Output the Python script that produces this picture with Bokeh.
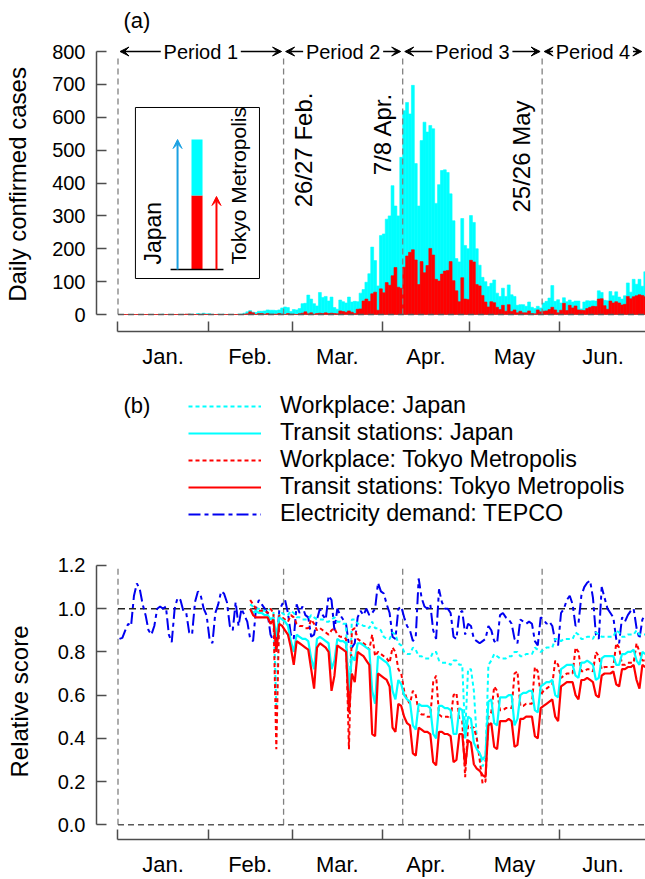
import numpy as np
import pandas as pd
from bokeh.plotting import figure
from bokeh.layouts import column
from bokeh.models import (ColumnDataSource, Range1d, FixedTicker, NumeralTickFormatter,
                          Arrow, VeeHead, Legend, LegendItem, Label)
from bokeh.embed import file_html
from bokeh.resources import INLINE
from bokeh.core.properties import value

FONT = "Liberation Sans"
W = 645

# ---------------------------------------------------------------- data
case_dates = pd.date_range("2020-01-01", "2020-06-30", freq="D")

japan_cases = [
    # Jan
    0, 0, 0, 0, 0, 0, 0, 0, 0, 0, 0, 0, 0, 0, 0, 1, 0, 0, 0, 0, 0, 0, 0, 1, 1, 1, 0, 3, 1, 4, 2,
    # Feb
    2, 0, 0, 1, 0, 1, 0, 0, 0, 0, 1, 1, 4, 8, 12, 7, 6, 10, 10, 11, 14, 13, 13, 12, 14, 20, 23, 21, 9,
    # Mar
    15, 14, 18, 33, 34, 59, 47, 33, 26, 67, 52, 55, 41, 53, 21, 16, 44, 39, 35, 53,
    38, 40, 39, 65, 76, 98, 124, 205, 164, 87, 240,
    # Apr
    245, 290, 300, 392, 330, 300, 478, 620, 645, 610, 697, 459, 330, 529, 585, 555, 575, 565, 338, 395,
    438, 440, 432, 367, 285, 170, 160, 292, 210, 200,
    # May
    301, 280, 200, 150, 113, 100, 85, 95, 105, 65, 55, 80, 55, 90, 60, 55, 28, 30, 30, 25,
    38, 22, 18, 25, 20, 35, 40, 50, 88, 40, 45,
    # Jun
    35, 51, 39, 44, 38, 41, 41, 17, 38, 42, 41, 42, 41, 72, 67, 43, 42, 70, 57, 69,
    53, 47, 57, 96, 68, 107, 92, 107, 86, 130,
]

tokyo_cases = [
    # Jan
    0, 0, 0, 0, 0, 0, 0, 0, 0, 0, 0, 0, 0, 0, 0, 0, 0, 0, 0, 0, 0, 0, 0, 1, 1, 0, 0, 0, 0, 1, 0,
    # Feb
    0, 0, 0, 0, 0, 0, 0, 0, 0, 0, 0, 0, 1, 2, 8, 5, 0, 3, 3, 1, 3, 1, 1, 1, 3, 1, 0, 3, 1,
    # Mar
    1, 0, 2, 4, 8, 2, 5, 1, 3, 4, 3, 5, 3, 4, 3, 2, 11, 9, 7, 11,
    7, 3, 16, 17, 41, 47, 40, 63, 68, 13, 78,
    # Apr
    66, 97, 89, 118, 143, 83, 80, 144, 178, 189, 197, 166, 91, 161, 127, 149, 201, 181, 107, 102,
    123, 132, 134, 161, 103, 72, 39, 112, 47, 46,
    # May
    165, 160, 91, 87, 58, 38, 23, 39, 36, 22, 15, 28, 10, 30, 9, 14, 5, 10, 5, 5,
    11, 3, 2, 14, 8, 10, 11, 15, 22, 14, 5,
    # Jun
    13, 34, 12, 28, 20, 26, 14, 13, 12, 18, 22, 25, 24, 47, 48, 27, 16, 41, 35, 39,
    35, 29, 31, 55, 48, 54, 57, 60, 58, 54,
]

electricity_tepco = [
    # Jan
    0.86, 0.865, 0.90, 0.93, 0.92, 1.06, 1.117, 1.09, 1.02, 0.97, 0.90, 0.88,
    0.92, 1.00, 1.01, 1.00, 1.01, 0.88, 0.845, 1.00, 1.05, 1.04, 0.99, 0.98, 0.89, 0.88,
    1.03, 1.08, 1.06, 1.00, 0.97,
    # Feb
    0.86, 0.84, 0.98, 1.02, 1.08, 1.07, 1.03, 0.92, 0.90, 1.03, 0.92, 1.00, 0.97, 0.94, 0.86, 0.85,
    1.00, 1.04, 1.02, 1.00, 0.98, 0.88, 0.85, 0.82, 0.99, 1.02, 1.04, 0.98, 0.88,
    # Mar
    0.86, 1.02, 0.98, 1.01, 0.97, 0.96, 0.87, 0.88, 0.95, 1.00, 0.97, 0.95, 1.06, 1.04, 0.90,
    1.00, 0.97, 0.95, 0.93, 0.83, 0.82, 0.84, 0.96, 0.99, 0.97, 1.00, 0.97, 0.98, 1.00, 1.12, 1.08,
    # Apr
    1.07, 1.02, 0.98, 0.87, 0.86, 1.00, 1.01, 0.96, 0.92, 0.90, 0.85, 0.87, 1.14, 1.05, 1.01,
    1.00, 1.02, 0.90, 0.86, 1.09, 1.03, 1.00, 1.00, 0.98, 0.87, 0.86, 0.98, 0.99, 0.88, 0.93,
    # May
    0.92, 0.86, 0.85, 0.84, 0.85, 0.86, 0.92, 0.90, 0.85, 0.84, 0.97, 0.98, 0.96, 0.95, 0.93,
    0.86, 0.84, 0.95, 0.94, 0.93, 0.94, 0.93, 0.85, 0.83, 0.96, 0.95, 0.93, 0.94, 0.92, 0.85, 0.83,
    # Jun
    0.98, 1.00, 1.04, 1.06, 1.02, 0.92, 0.93, 1.06, 1.10, 1.12, 1.13, 1.05, 0.88, 0.86,
    1.10, 1.05, 1.00, 0.98, 0.96, 0.86, 0.84, 0.96, 0.94, 0.97, 0.99, 1.00, 0.91, 0.86, 0.95, 0.97,
]

mobility_dates = pd.date_range("2020-02-15", "2020-06-30", freq="D")

workplace_japan = [
    1.02, 1.01, 1.00, 1.00, 0.99, 0.99, 0.99, 1.00, 0.99, 0.55, 0.98, 0.98, 0.97, 0.97, 0.99,
    0.98, 0.96, 0.96, 0.95, 0.95, 0.95, 0.97, 0.96, 0.95, 0.95, 0.95, 0.94, 0.94, 0.95, 0.96,
    0.94, 0.94, 0.93, 0.93, 0.54, 0.95, 0.95, 0.93, 0.93, 0.92, 0.92, 0.91, 0.94, 0.91, 0.91, 0.90,
    0.87, 0.86, 0.86, 0.89, 0.88, 0.84, 0.83, 0.80, 0.79, 0.79, 0.82, 0.81, 0.78, 0.78, 0.77,
    0.77, 0.77, 0.80, 0.80, 0.76, 0.75, 0.75, 0.75, 0.74, 0.76, 0.76, 0.74, 0.74, 0.42, 0.72,
    0.72, 0.62, 0.40, 0.32, 0.27, 0.30, 0.74, 0.76, 0.79, 0.78, 0.77, 0.77, 0.77, 0.78, 0.78,
    0.80, 0.80, 0.78, 0.78, 0.79, 0.79, 0.79, 0.82, 0.81, 0.80, 0.81, 0.82, 0.82, 0.82, 0.86, 0.86,
    0.85, 0.86, 0.86, 0.86, 0.86, 0.89, 0.88, 0.86, 0.86, 0.87, 0.87, 0.86, 0.89, 0.88,
    0.87, 0.87, 0.87, 0.87, 0.87, 0.90, 0.89, 0.87, 0.87, 0.88, 0.88, 0.88, 0.90, 0.88, 0.88, 0.88,
]

transit_japan = [
    1.00, 0.98, 0.99, 0.98, 0.98, 0.97, 0.97, 0.95, 0.96, 0.87, 0.96, 0.95, 0.94, 0.92, 0.85,
    0.80, 0.88, 0.87, 0.86, 0.86, 0.85, 0.77, 0.72, 0.86, 0.87, 0.86, 0.85, 0.84, 0.72, 0.76,
    0.86, 0.85, 0.85, 0.84, 0.62, 0.78, 0.76, 0.84, 0.84, 0.83, 0.82, 0.81, 0.62, 0.56, 0.78, 0.77,
    0.76, 0.75, 0.73, 0.62, 0.58, 0.67, 0.65, 0.60, 0.58, 0.57, 0.46, 0.44, 0.56, 0.55, 0.55,
    0.55, 0.54, 0.42, 0.40, 0.55, 0.55, 0.54, 0.54, 0.53, 0.42, 0.42, 0.54, 0.53, 0.40, 0.50,
    0.49, 0.38, 0.35, 0.33, 0.30, 0.32, 0.57, 0.58, 0.47, 0.46, 0.59, 0.59, 0.59, 0.60, 0.60,
    0.46, 0.49, 0.60, 0.61, 0.61, 0.62, 0.62, 0.53, 0.52, 0.64, 0.65, 0.66, 0.66, 0.67, 0.60, 0.59,
    0.72, 0.73, 0.74, 0.74, 0.74, 0.69, 0.68, 0.75, 0.75, 0.76, 0.75, 0.74, 0.67, 0.68,
    0.77, 0.78, 0.78, 0.78, 0.78, 0.74, 0.74, 0.79, 0.79, 0.80, 0.80, 0.81, 0.76, 0.74, 0.80, 0.79,
]

workplace_tokyo = [
    1.04, 1.02, 1.00, 0.99, 0.99, 0.99, 0.98, 1.00, 0.98, 0.35, 0.97, 0.96, 0.95, 0.94, 0.97,
    0.96, 0.93, 0.92, 0.92, 0.91, 0.91, 0.95, 0.93, 0.90, 0.91, 0.90, 0.89, 0.88, 0.90, 0.91,
    0.88, 0.87, 0.87, 0.86, 0.35, 0.90, 0.91, 0.86, 0.85, 0.84, 0.83, 0.81, 0.88, 0.78, 0.80, 0.79,
    0.78, 0.77, 0.75, 0.82, 0.80, 0.72, 0.70, 0.62, 0.58, 0.56, 0.62, 0.60, 0.52, 0.51, 0.51,
    0.50, 0.50, 0.66, 0.69, 0.51, 0.50, 0.50, 0.50, 0.49, 0.60, 0.61, 0.49, 0.48, 0.22, 0.46,
    0.45, 0.45, 0.40, 0.30, 0.19, 0.20, 0.50, 0.52, 0.64, 0.62, 0.53, 0.53, 0.54, 0.54, 0.54,
    0.70, 0.71, 0.55, 0.55, 0.56, 0.56, 0.56, 0.73, 0.71, 0.60, 0.62, 0.63, 0.64, 0.65, 0.76, 0.74,
    0.68, 0.69, 0.70, 0.70, 0.70, 0.82, 0.80, 0.71, 0.71, 0.72, 0.72, 0.71, 0.80, 0.78,
    0.72, 0.73, 0.73, 0.73, 0.73, 0.84, 0.82, 0.74, 0.74, 0.75, 0.75, 0.75, 0.84, 0.80, 0.76, 0.76,
]

transit_tokyo = [
    1.00, 0.97, 0.96, 0.96, 0.96, 0.96, 0.96, 0.93, 0.95, 0.80, 0.93, 0.92, 0.90, 0.88, 0.82,
    0.74, 0.85, 0.84, 0.83, 0.82, 0.81, 0.72, 0.63, 0.82, 0.84, 0.83, 0.82, 0.80, 0.62, 0.69,
    0.83, 0.82, 0.81, 0.80, 0.52, 0.70, 0.66, 0.80, 0.79, 0.78, 0.76, 0.74, 0.42, 0.41, 0.70, 0.69,
    0.68, 0.67, 0.64, 0.45, 0.43, 0.56, 0.55, 0.50, 0.47, 0.46, 0.33, 0.32, 0.45, 0.44, 0.43,
    0.43, 0.42, 0.29, 0.275, 0.43, 0.43, 0.42, 0.42, 0.41, 0.29, 0.30, 0.42, 0.42, 0.27, 0.39,
    0.38, 0.28, 0.26, 0.25, 0.23, 0.22, 0.46, 0.47, 0.36, 0.35, 0.48, 0.48, 0.48, 0.49, 0.48,
    0.36, 0.37, 0.49, 0.49, 0.50, 0.50, 0.50, 0.41, 0.40, 0.54, 0.55, 0.56, 0.57, 0.58, 0.50, 0.48,
    0.64, 0.65, 0.66, 0.66, 0.66, 0.60, 0.58, 0.67, 0.67, 0.68, 0.67, 0.66, 0.60, 0.59,
    0.69, 0.70, 0.70, 0.70, 0.71, 0.65, 0.64, 0.72, 0.72, 0.73, 0.73, 0.74, 0.67, 0.63, 0.74, 0.73,
]

period_edges = ["2020-01-01", "2020-02-27", "2020-04-08", "2020-05-26", "2020-07-01"]
period_labels = ["Period 1", "Period 2", "Period 3", "Period 4"]
event_labels = ["26/27 Feb.", "7/8 Apr.", "25/26 May"]
month_labels = ["Jan.", "Feb.", "Mar.", "Apr.", "May", "Jun."]
case_ticks = [0, 100, 200, 300, 400, 500, 600, 700, 800]
score_ticks = [0.0, 0.2, 0.4, 0.6, 0.8, 1.0, 1.2]
legend_labels = ["Workplace: Japan", "Transit stations: Japan", "Workplace: Tokyo Metropolis",
                 "Transit stations: Tokyo Metropolis", "Electricity demand: TEPCO"]

# ---------------------------------------------------------------- helpers
T0 = pd.Timestamp("2020-01-01")


def dnum(idx):
    return np.asarray((pd.DatetimeIndex(idx) - T0).days, dtype=float)


case_x = dnum(case_dates) + 0.5
mob_x = dnum(mobility_dates) + 0.5
edges = dnum(pd.to_datetime(period_edges))
month_starts = dnum(pd.date_range("2020-01-01", "2020-07-01", freq="MS"))
month_mids = (month_starts[:-1] + month_starts[1:]) / 2

CYAN = "#00FFFF"
RED = "#FF0000"
BLUE = "#0000F0"
AX = "#4d4d4d"
GREY = "#808080"
X_RANGE = (-7.40, 181.58)
FRAME_LEFT = 96


def make_fig(height, y_range, mb_top, mb_bottom):
    p = figure(width=W, height=height, x_range=Range1d(*X_RANGE), y_range=y_range,
               toolbar_location=None, output_backend="svg",
               min_border_left=FRAME_LEFT, min_border_right=0,
               min_border_top=mb_top, min_border_bottom=mb_bottom)
    p.outline_line_color = None
    p.xgrid.visible = False
    p.ygrid.visible = False
    xa = p.xaxis[0]
    xa.ticker = FixedTicker(ticks=list(month_mids), minor_ticks=list(month_starts))
    xa.major_label_overrides = {float(m): lab for m, lab in zip(month_mids, month_labels)}
    xa.bounds = (float(month_starts[0]), float(month_starts[-1]))
    xa.major_tick_line_color = None
    xa.minor_tick_in = 10
    xa.minor_tick_out = 0
    xa.minor_tick_line_color = AX
    xa.minor_tick_line_width = 1.5
    xa.axis_line_color = AX
    xa.axis_line_width = 1.5
    xa.major_label_standoff = 6
    xa.major_label_text_font = FONT
    xa.major_label_text_font_size = "22px"
    xa.major_label_text_color = "black"
    ya = p.yaxis[0]
    ya.major_tick_in = 10
    ya.major_tick_out = 0
    ya.minor_tick_line_color = None
    ya.major_tick_line_color = AX
    ya.major_tick_line_width = 1.5
    ya.axis_line_color = AX
    ya.axis_line_width = 1.5
    ya.major_label_standoff = 11
    ya.major_label_text_font = FONT
    ya.major_label_text_font_size = "20px"
    ya.major_label_text_color = "black"
    ya.axis_label_text_font = FONT
    ya.axis_label_text_font_size = "24px"
    ya.axis_label_text_font_style = "normal"
    ya.axis_label_text_color = "black"
    return p


# ---------------------------------------------------------------- panel (a)
pa = make_fig(375, Range1d(-51.7, 842.6), 37, 44)
pa.title.text = "(a)"
pa.title.align = "left"
pa.title.offset = 27
pa.title.text_font = FONT
pa.title.text_font_size = "22px"
pa.title.text_font_style = "normal"
pa.title.text_color = "black"
pa.title.standoff = 9

ya = pa.yaxis[0]
ya.ticker = FixedTicker(ticks=case_ticks)
ya.bounds = (case_ticks[0], case_ticks[-1])
ya.axis_label = "Daily confirmed cases"
ya.axis_label_standoff = 18

cases_src = ColumnDataSource(dict(x=case_x, japan=japan_cases, tokyo=tokyo_cases))
pa.vbar(x="x", top="japan", width=1.0, source=cases_src, fill_color=CYAN, line_color=CYAN, line_width=0.6)
pa.vbar(x="x", top="tokyo", width=1.0, source=cases_src, fill_color=RED, line_color=RED, line_width=0.6)

# period boundaries
pa.segment(x0=edges[:-1], y0=0, x1=edges[:-1], y1=case_ticks[-1] - 12, line_color=GREY,
           line_width=1.3, line_dash="6 4")
pa.segment(x0=[edges[0]], y0=[0], x1=[edges[-1]], y1=[0], line_color="#5a5a5a",
           line_width=1.3, line_dash="6 4")

# period labels with arrows
PX_PER_DAY = 2.905
half_w = (37 + 3) / PX_PER_DAY
label_y = case_ticks[-1]
right_limit = [edges[1], edges[2], edges[3], 181.0]
centers = []
for i, lab in enumerate(period_labels):
    L = edges[i]
    R = right_limit[i]
    c = (L + R) / 2
    centers.append(c)
    for xs, xe in ((c - half_w, L + 0.7), (c + half_w, R - 0.7)):
        pa.add_layout(Arrow(x_start=xs, y_start=label_y, x_end=xe, y_end=label_y,
                            line_color="black", line_width=1.5,
                            end=VeeHead(size=9, line_color="black", fill_color="black", line_width=1)))
pa.text(x=centers, y=[label_y] * 4, text=period_labels, text_align="center", text_baseline="middle",
        text_font=value(FONT), text_font_size="20px", text_color="black")

# event labels (rotated)
ev_x = [edges[1] + 6.9, edges[2] - 6.9, edges[3] - 7.2]
ev_y = [675, 675, 651]
pa.text(x=ev_x, y=ev_y, text=event_labels, angle=np.pi / 2, text_align="right",
        text_baseline="middle", text_font=value(FONT), text_font_size="24px", text_color="black")

# inset schematic legend
pa.quad(left=[6.0], right=[48.7], bottom=[109.5], top=[629.7], fill_color="white",
        line_color="black", line_width=1)
pa.quad(left=[25.3], right=[29.1], bottom=[136.9], top=[362], fill_color=RED, line_color=None)
pa.quad(left=[25.3], right=[29.1], bottom=[362], top=[532.3], fill_color=CYAN, line_color=None)
pa.segment(x0=[18.1], y0=[136.9], x1=[36.3], y1=[136.9], line_color="black", line_width=1.5)
pa.add_layout(Arrow(x_start=20.5, y_start=136.9, x_end=20.5, y_end=532.3, line_color="#1BA1E2",
                    line_width=2, end=VeeHead(size=9, line_color="#1BA1E2", fill_color="#1BA1E2")))
pa.add_layout(Arrow(x_start=33.9, y_start=136.9, x_end=33.9, y_end=359, line_color=RED,
                    line_width=2, end=VeeHead(size=9, line_color=RED, fill_color=RED)))
pa.text(x=[12.2], y=[152], text=["Japan"], angle=np.pi / 2,
        text_align="left", text_baseline="middle", text_font=value(FONT), text_font_size="23px",
        text_color="black")
pa.text(x=[41.5], y=[152], text=["Tokyo Metropolis"], angle=np.pi / 2,
        text_align="left", text_baseline="middle", text_font=value(FONT), text_font_size="21px",
        text_color="black")

# ---------------------------------------------------------------- legend strip
# the column aligns this strip's frame with the panels, so it starts at FRAME_LEFT
pm = figure(width=W, height=168, x_range=Range1d(FRAME_LEFT, W), y_range=Range1d(168, 0),
            toolbar_location=None, x_axis_location=None, y_axis_location=None,
            min_border=0, output_backend="svg")
pm.outline_line_color = None
pm.grid.visible = False
styles = [dict(line_color=CYAN, line_dash="4 3", line_width=2),
          dict(line_color=CYAN, line_width=2.2),
          dict(line_color=RED, line_dash="4 3", line_width=2),
          dict(line_color=RED, line_width=2.2),
          dict(line_color=BLUE, line_dash="12 4 4 4", line_width=2)]
items = []
for lab, st in zip(legend_labels, styles):
    r = pm.line(x=[-10.0], y=[-10.0], **st)
    items.append(LegendItem(label=lab, renderers=[r]))
legend = Legend(items=items, location=(92, 16), orientation="vertical", glyph_width=73,
                glyph_height=20, label_height=20, label_standoff=19, spacing=0, padding=0, margin=0,
                label_text_font=FONT, label_text_font_size="23.3px", label_text_color="black",
                border_line_color=None, background_fill_alpha=0)
pm.add_layout(legend)
pm.add_layout(Label(x=123, y=30, text="(b)", text_align="left", text_baseline="middle",
                    text_font=FONT, text_font_size="22px", text_color="black"))

# ---------------------------------------------------------------- panel (b)
pb = make_fig(336, Range1d(-0.0682, 1.2091), 20, 35)
yb = pb.yaxis[0]
yb.ticker = FixedTicker(ticks=score_ticks)
yb.formatter = NumeralTickFormatter(format="0.0")
yb.bounds = (score_ticks[0], score_ticks[-1])
yb.axis_label = "Relative score"
yb.axis_label_standoff = 22

pb.segment(x0=edges[:-1], y0=score_ticks[0], x1=edges[:-1], y1=score_ticks[-1], line_color=GREY,
           line_width=1.3, line_dash="6 4")
pb.segment(x0=[edges[0]], y0=[0.0], x1=[edges[-1]], y1=[0.0], line_color="#5a5a5a",
           line_width=1.3, line_dash="6 4")
pb.segment(x0=[edges[0]], y0=[1.0], x1=[edges[-1]], y1=[1.0], line_color="#222222",
           line_width=1.5, line_dash="7 4")

mob_src = ColumnDataSource(dict(x=mob_x, wj=workplace_japan, tj=transit_japan,
                                wt=workplace_tokyo, tt=transit_tokyo))
elec_src = ColumnDataSource(dict(x=case_x, e=electricity_tepco))
pb.line(x="x", y="e", source=elec_src, **styles[4])
pb.line(x="x", y="wj", source=mob_src, **styles[0])
pb.line(x="x", y="wt", source=mob_src, **styles[2])
pb.line(x="x", y="tj", source=mob_src, **styles[1])
pb.line(x="x", y="tt", source=mob_src, **styles[3])

layout = column(pa, pm, pb, spacing=0)
open("out.html", "w").write(file_html(layout, INLINE))
